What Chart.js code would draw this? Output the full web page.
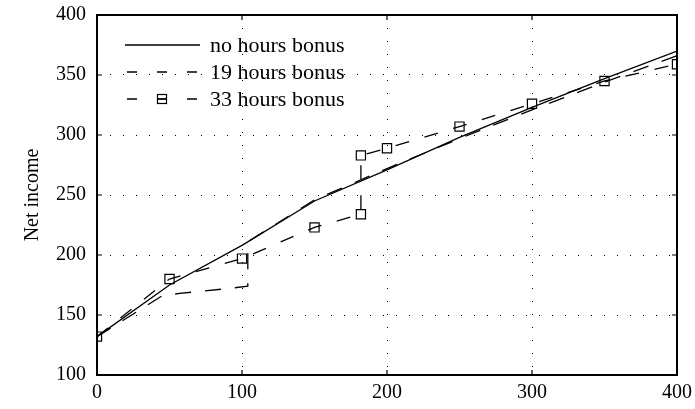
<!DOCTYPE html>
<html>
<head>
<meta charset="utf-8">
<script src="https://cdn.jsdelivr.net/npm/chart.js@4/dist/chart.umd.min.js"></script>
<style>
  html, body { margin: 0; padding: 0; background: #fff; }
  #wrap { width: 695px; height: 409px; }
</style>
</head>
<body>
<div id="wrap"><canvas id="incomeChart"></canvas></div>
<script>
// DATA
const xTicks = [0, 100, 200, 300, 400];
const yTicks = [100, 150, 200, 250, 300, 350, 400];

const noBonusX = [0, 50, 100, 150, 200, 250, 300, 350, 400];
const noBonusY = [132, 175, 208, 245, 271, 298, 323, 347, 370];

const bonus19X = [0, 45, 57, 90, 104, 104, 150, 200, 250, 300, 350, 400];
const bonus19Y = [132, 166, 168, 172, 174, 211, 246, 272, 297, 321, 344, 366];

const bonus33X = [0, 50, 100, 150, 182, 182, 200, 250, 300, 350, 400];
const bonus33Y = [132, 180, 197, 223, 234, 283, 289, 307, 326, 345, 359];

const seriesLabels = ["no hours bonus", "19 hours bonus", "33 hours bonus"];

const FONT = "'Liberation Serif', 'Times New Roman', serif";

function toPoints(xs, ys) {
    return xs.map((x, i) => ({ x: x, y: ys[i] }));
}

// frame + inward ticks
const framePlugin = {
    id: "frame",
    afterDraw(chart) {
        const ctx = chart.ctx;
        const a = chart.chartArea;
        const xs = chart.scales.x;
        const ys = chart.scales.y;
        ctx.save();
        ctx.strokeStyle = "#000";
        ctx.lineWidth = 1.2;
        ctx.beginPath();
        xTicks.forEach(v => {
            const px = xs.getPixelForValue(v);
            ctx.moveTo(px, a.bottom); ctx.lineTo(px, a.bottom - 5);
            ctx.moveTo(px, a.top); ctx.lineTo(px, a.top + 5);
        });
        yTicks.forEach(v => {
            const py = ys.getPixelForValue(v);
            ctx.moveTo(a.left, py); ctx.lineTo(a.left + 5, py);
            ctx.moveTo(a.right, py); ctx.lineTo(a.right - 5, py);
        });
        ctx.stroke();
        ctx.lineWidth = 2;
        ctx.strokeRect(a.left, a.top, a.right - a.left, a.bottom - a.top);
        ctx.restore();
    }
};

// legend drawn inside the plot, top left
const legendPlugin = {
    id: "innerLegend",
    afterDraw(chart) {
        const ctx = chart.ctx;
        const rows = [45, 72, 99];
        const x0 = 125, x1 = 200;
        ctx.save();
        chart.data.datasets.forEach((ds, i) => {
            const y = rows[i];
            ctx.strokeStyle = "#000";
            ctx.lineWidth = 1.3;
            ctx.setLineDash(i === 0 ? [] : [10, 20]);
            ctx.lineDashOffset = i === 0 ? 0 : -2;
            ctx.beginPath();
            ctx.moveTo(x0, y);
            ctx.lineTo(x1, y);
            ctx.stroke();
            ctx.setLineDash([]);
            if (ds.pointRadius > 0) {
                ctx.lineWidth = 1.2;
                ctx.strokeRect(157.5, y - 4.5, 9, 9);
                ctx.beginPath();
                ctx.moveTo(157.5, y); ctx.lineTo(166.5, y);
                ctx.stroke();
            }
            ctx.fillStyle = "#000";
            ctx.font = "22px " + FONT;
            ctx.textBaseline = "middle";
            ctx.textAlign = "left";
            ctx.fillText(ds.label, 210, y + 1);
        });
        ctx.restore();
    }
};

new Chart(document.getElementById("incomeChart"), {
    type: "line",
    data: {
        datasets: [
            {
                label: seriesLabels[0],
                data: toPoints(noBonusX, noBonusY),
                borderColor: "#000",
                borderWidth: 1.3,
                pointRadius: 0
            },
            {
                label: seriesLabels[1],
                data: toPoints(bonus19X, bonus19Y),
                borderColor: "#000",
                borderWidth: 1.3,
                borderDash: [16, 14],
                pointRadius: 0
            },
            {
                label: seriesLabels[2],
                data: toPoints(bonus33X, bonus33Y),
                borderColor: "#000",
                borderWidth: 1.3,
                borderDash: [14, 16],
                pointStyle: "rect",
                pointRadius: 6.5,
                pointBorderWidth: 1.2,
                pointBorderColor: "#000",
                pointBackgroundColor: "rgba(0,0,0,0)"
            }
        ]
    },
    options: {
        responsive: true,
        maintainAspectRatio: false,
        animation: false,
        layout: { padding: { top: 15, right: 18, bottom: 0, left: 0 } },
        plugins: {
            legend: { display: false },
            tooltip: { enabled: false }
        },
        scales: {
            x: {
                type: "linear",
                min: 0,
                max: 400,
                afterBuildTicks: s => { s.ticks = xTicks.map(v => ({ value: v })); },
                afterFit: s => {
                    s.height = 34;
                    s.paddingLeft = 0;
                    s.paddingRight = 0;
                },
                ticks: {
                    color: "#000",
                    font: { family: FONT, size: 20 },
                    padding: 6,
                    maxRotation: 0
                },
                grid: { color: "#000", lineWidth: 1, drawTicks: false },
                border: { display: false, dash: [1, 12] }
            },
            y: {
                min: 100,
                max: 400,
                afterBuildTicks: s => { s.ticks = yTicks.map(v => ({ value: v })); },
                afterFit: s => {
                    s.width = 97;
                    s.paddingTop = 0;
                    s.paddingBottom = 0;
                },
                ticks: {
                    color: "#000",
                    font: { family: FONT, size: 20 },
                    padding: 11
                },
                grid: { color: "#000", lineWidth: 1, drawTicks: false },
                border: { display: false, dash: [1, 12] },
                title: {
                    display: true,
                    text: "Net income",
                    color: "#000",
                    font: { family: FONT, size: 20 },
                    padding: { top: 21, bottom: 0 }
                }
            }
        }
    },
    plugins: [framePlugin, legendPlugin]
});
</script>
</body>
</html>
